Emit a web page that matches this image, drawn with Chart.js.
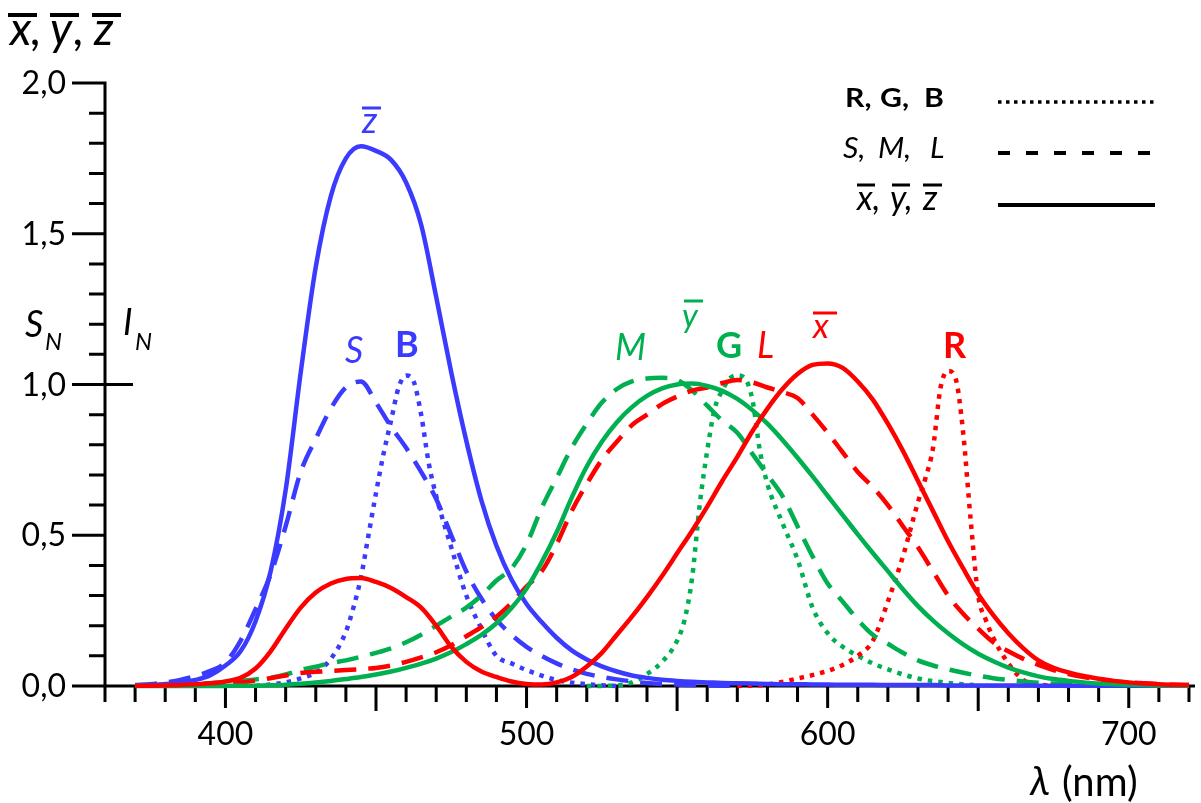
<!DOCTYPE html>
<html>
<head>
<meta charset="utf-8">
<script src="https://cdn.jsdelivr.net/npm/chart.js@4.4.1/dist/chart.umd.min.js"></script>
<style>
  html, body { margin: 0; padding: 0; background: #fff; }
  canvas { display: block; }
</style>
</head>
<body>
<canvas id="chart" width="1201" height="803"></canvas>
<script>
// colour matching functions, 5 nm grid
const lambdaCie = [370, 375, 380, 385, 390, 395, 400, 405, 410, 415, 420, 425, 430, 435, 440, 445, 450, 455, 460, 465,
  470, 475, 480, 485, 490, 495, 500, 505, 510, 515, 520, 525, 530, 535, 540, 545, 550, 555, 560, 565,
  570, 575, 580, 585, 590, 595, 600, 605, 610, 615, 620, 625, 630, 635, 640, 645, 650, 655, 660, 665,
  670, 675, 680, 685, 690, 695, 700, 705, 710, 715, 720];
const xBar = [0.0005, 0.001, 0.002, 0.003, 0.006, 0.009, 0.015, 0.027, 0.058, 0.115, 0.19, 0.26, 0.31, 0.34, 0.355, 0.358, 0.345, 0.325, 0.295, 0.26,
  0.2, 0.13, 0.08, 0.048, 0.03, 0.015, 0.007, 0.005, 0.012, 0.03, 0.065, 0.11, 0.17, 0.23, 0.295, 0.365, 0.44, 0.515, 0.595, 0.68,
  0.76, 0.845, 0.92, 0.985, 1.035, 1.065, 1.07, 1.055, 1.01, 0.95, 0.87, 0.78, 0.68, 0.58, 0.48, 0.39, 0.305, 0.235, 0.175, 0.125,
  0.085, 0.06, 0.045, 0.033, 0.024, 0.017, 0.012, 0.008, 0.006, 0.004, 0.003];
const yBar = [0, 0, 0, 0.0001, 0.0001, 0.0002, 0.0004, 0.0006, 0.0012, 0.0022, 0.004, 0.0073, 0.0116, 0.0168, 0.023, 0.0298, 0.038, 0.048, 0.06, 0.0739,
  0.091, 0.1126, 0.139, 0.1693, 0.208, 0.2586, 0.323, 0.41, 0.51, 0.625, 0.728, 0.81, 0.875, 0.925, 0.962, 0.987, 1.0, 1.003, 0.995, 0.979,
  0.952, 0.915, 0.87, 0.816, 0.757, 0.695, 0.631, 0.567, 0.503, 0.441, 0.381, 0.321, 0.265, 0.217, 0.175, 0.138, 0.107, 0.082, 0.061, 0.045,
  0.032, 0.023, 0.017, 0.012, 0.008, 0.006, 0.004, 0.003, 0.002, 0.0015, 0.001];
const zBar = [0.001, 0.003, 0.0065, 0.0106, 0.02, 0.036, 0.068, 0.115, 0.215, 0.38, 0.65, 1.04, 1.39, 1.625, 1.75, 1.79, 1.775, 1.745, 1.67, 1.53,
  1.29, 1.04, 0.813, 0.616, 0.465, 0.353, 0.272, 0.212, 0.16, 0.118, 0.088, 0.065, 0.048, 0.035, 0.027, 0.021, 0.017, 0.014, 0.012, 0.01,
  0.009, 0.008, 0.007, 0.006, 0.006, 0.005, 0.005, 0.004, 0.004, 0.004, 0.003, 0.003, 0.003, 0.003, 0.002, 0.002, 0.002, 0.002, 0.002, 0.002,
  0.001, 0.001, 0.001, 0.001, 0.001, 0.001, 0.001, 0.001, 0.001, 0.001, 0.001];

// cone sensitivities S, M, L (normalised)
const lambdaS = [370, 375, 380, 385, 390, 395, 400, 405, 410, 415, 420, 425, 430, 435, 440, 445, 450, 455, 460, 465,
  470, 475, 480, 485, 490, 495, 500, 505, 510, 515, 520, 525, 530, 535, 540, 545, 550, 555, 560, 565, 570];
const sCone = [0.003, 0.006, 0.012, 0.02, 0.033, 0.05, 0.078, 0.15, 0.255, 0.37, 0.53, 0.71, 0.82, 0.92, 0.99, 1.01, 0.94, 0.86, 0.79, 0.71,
  0.62, 0.5, 0.38, 0.29, 0.22, 0.17, 0.13, 0.1, 0.075, 0.055, 0.04, 0.03, 0.022, 0.015, 0.01, 0.007, 0.005, 0.003, 0.002, 0.001, 0];
const lambdaM = [370, 375, 380, 385, 390, 395, 400, 405, 410, 415, 420, 425, 430, 435, 440, 445, 450, 455, 460, 465,
  470, 475, 480, 485, 490, 495, 500, 505, 510, 515, 520, 525, 530, 535, 540, 545, 550, 555, 560, 565,
  570, 575, 580, 585, 590, 595, 600, 605, 610, 615, 620, 625, 630, 635, 640, 645, 650, 655, 660, 665,
  670, 675, 680, 685, 690, 695, 700];
const mCone = [0.001, 0.002, 0.003, 0.004, 0.006, 0.009, 0.013, 0.017, 0.022, 0.027, 0.038, 0.053, 0.064, 0.076, 0.085, 0.097, 0.11, 0.125, 0.145, 0.17,
  0.2, 0.23, 0.26, 0.3, 0.35, 0.39, 0.47, 0.59, 0.69, 0.79, 0.87, 0.94, 0.985, 1.01, 1.02, 1.022, 1.015, 0.98, 0.93, 0.88,
  0.84, 0.77, 0.7, 0.63, 0.53, 0.43, 0.34, 0.28, 0.22, 0.17, 0.14, 0.11, 0.085, 0.068, 0.055, 0.044, 0.034, 0.026, 0.02, 0.015,
  0.011, 0.008, 0.006, 0.004, 0.003, 0.002, 0.001];
const lambdaL = [380, 385, 390, 395, 400, 405, 410, 415, 420, 425, 430, 435, 440, 445, 450, 455, 460, 465,
  470, 475, 480, 485, 490, 495, 500, 505, 510, 515, 520, 525, 530, 535, 540, 545, 550, 555, 560, 565,
  570, 575, 580, 585, 590, 595, 600, 605, 610, 615, 620, 625, 630, 635, 640, 645, 650, 655, 660, 665,
  670, 675, 680, 685, 690, 695, 700, 705, 710, 715, 720];
const lCone = [0.002, 0.003, 0.004, 0.006, 0.008, 0.012, 0.018, 0.026, 0.035, 0.043, 0.047, 0.05, 0.053, 0.056, 0.06, 0.068, 0.08, 0.095,
  0.112, 0.135, 0.165, 0.195, 0.23, 0.275, 0.33, 0.38, 0.47, 0.58, 0.67, 0.75, 0.81, 0.865, 0.9, 0.935, 0.96, 0.98, 0.99, 1.005,
  1.015, 1.007, 0.99, 0.975, 0.955, 0.9, 0.84, 0.775, 0.71, 0.66, 0.6, 0.53, 0.46, 0.38, 0.3, 0.24, 0.19, 0.145, 0.115, 0.09,
  0.07, 0.053, 0.04, 0.03, 0.022, 0.016, 0.012, 0.009, 0.006, 0.004, 0.003];

// primaries R, G, B (normalised intensity)
const lambdaB = [410, 415, 420, 425, 430, 435, 440, 442.5, 445, 447.5, 450, 452.5, 455, 457.5, 460, 462.5, 465, 467.5, 470, 475, 480, 485, 490, 495, 500, 510, 520, 530];
const bPrim = [0, 0.005, 0.012, 0.025, 0.045, 0.09, 0.18, 0.26, 0.36, 0.5, 0.64, 0.77, 0.88, 0.99, 1.03, 1.01, 0.9, 0.74, 0.63, 0.46, 0.3, 0.19, 0.1, 0.075, 0.053, 0.02, 0.006, 0];
const lambdaG = [520, 530, 535, 540, 545, 550, 552.5, 555, 557.5, 560, 562.5, 565, 567.5, 570, 572.5, 575, 577.5, 580, 585, 590, 595, 600, 605, 610, 615, 620, 630, 640, 650];
const gPrim = [0, 0.002, 0.012, 0.04, 0.08, 0.15, 0.22, 0.36, 0.6, 0.78, 0.92, 0.98, 1.02, 1.03, 1.02, 0.95, 0.78, 0.67, 0.54, 0.42, 0.26, 0.175, 0.13, 0.1, 0.075, 0.055, 0.025, 0.01, 0.002];
const lambdaR = [570, 580, 590, 600, 605, 610, 615, 620, 625, 630, 632.5, 635, 637.5, 640, 642.5, 645, 647.5, 650, 652.5, 655, 660, 665, 670, 680];
const rPrim = [0, 0.005, 0.025, 0.05, 0.07, 0.1, 0.15, 0.28, 0.43, 0.61, 0.69, 0.79, 0.99, 1.045, 1.02, 0.84, 0.55, 0.3, 0.22, 0.16, 0.075, 0.02, 0.005, 0];

// axis ticks
const xTickLabels = ['400', '500', '600', '700'];
const xTickValues = [400, 500, 600, 700];
const yTickLabels = ['0,0', '0,5', '1,0', '1,5', '2,0'];
const yTickValues = [0, 0.5, 1.0, 1.5, 2.0];

const BLUE = '#3b3bff', RED = '#ff0000', GREEN = '#00b050';
const DASH = [22, 12], DOT = [4.5, 6];
const FONT = 'Lato, "DejaVu Sans", sans-serif';

function pts(lams, vals) {
  return lams.map((x, i) => ({ x: x, y: vals[i] }));
}

function curve(label, lams, vals, color, dash) {
  return {
    label: label,
    data: pts(lams, vals),
    showLine: true,
    borderColor: color,
    borderWidth: 4.5,
    borderDash: dash,
    borderCapStyle: 'butt',
    pointRadius: 0,
    cubicInterpolationMode: 'monotone',
    clip: false
  };
}

function txt(ctx, s, x, y, o) {
  ctx.save();
  ctx.font = (o.italic ? 'italic ' : '') + (o.bold ? 'bold ' : '') + o.size + 'px ' + FONT;
  ctx.fillStyle = o.color || '#000';
  ctx.textAlign = o.align || 'left';
  ctx.textBaseline = 'alphabetic';
  ctx.translate(x, y);
  ctx.scale(o.sx || 1, 1);
  ctx.fillText(s, 0, 0);
  const w = ctx.measureText(s).width * (o.sx || 1);
  ctx.restore();
  return w;
}

function bar(ctx, x1, x2, y, color, w) {
  ctx.save();
  ctx.strokeStyle = color;
  ctx.lineWidth = w || 3;
  ctx.beginPath();
  ctx.moveTo(x1, y);
  ctx.lineTo(x2, y);
  ctx.stroke();
  ctx.restore();
}

const axesPlugin = {
  id: 'axes',
  beforeDatasetsDraw(chart) {
    const ctx = chart.ctx, xs = chart.scales.x, ys = chart.scales.y;
    const x0 = xs.getPixelForValue(360), y0 = ys.getPixelForValue(0);
    ctx.save();
    ctx.strokeStyle = '#000';
    ctx.lineWidth = 3;
    ctx.lineCap = 'butt';
    ctx.beginPath();
    ctx.moveTo(x0, ys.getPixelForValue(2) - 1.5);
    ctx.lineTo(x0, y0);
    ctx.moveTo(x0 - 33, y0);
    ctx.lineTo(xs.getPixelForValue(722), y0);
    // y ticks
    for (let i = 0; i <= 20; i++) {
      const py = ys.getPixelForValue(i / 10);
      const len = i % 5 === 0 ? 33 : 16;
      ctx.moveTo(x0 - len, py);
      ctx.lineTo(x0, py);
    }
    const p1 = ys.getPixelForValue(1);
    ctx.moveTo(x0, p1);
    ctx.lineTo(x0 + 28, p1);
    // x ticks
    for (let nm = 360; nm <= 720; nm += 10) {
      const px = xs.getPixelForValue(nm);
      const len = nm % 100 === 0 ? 22 : (nm % 50 === 0 ? 25 : 16);
      ctx.moveTo(px, y0);
      ctx.lineTo(px, y0 + len);
    }
    ctx.stroke();
    ctx.restore();
  },
  afterDatasetsDraw(chart) {
    const ctx = chart.ctx, xs = chart.scales.x, ys = chart.scales.y;
    // tick labels
    xTickValues.forEach((v, i) => txt(ctx, xTickLabels[i], xs.getPixelForValue(v), 745, { size: 32, align: 'center' }));
    yTickValues.forEach((v, i) => txt(ctx, yTickLabels[i], 66, ys.getPixelForValue(v) + 11, { size: 32, align: 'right' }));

    // axis titles
    const t = { size: 46, italic: true };
    let w = txt(ctx, 'x', 10, 45, t); bar(ctx, 8, 37, 15, '#000', 4);
    txt(ctx, ',', 10 + w, 45, t);
    txt(ctx, 'y', 50, 45, t); bar(ctx, 50, 79, 15, '#000', 4);
    txt(ctx, ',', 74, 45, t);
    txt(ctx, 'z', 94, 45, t); bar(ctx, 92, 121, 15, '#000', 4);
    txt(ctx, 'S', 25, 337, { size: 36, italic: true });
    txt(ctx, 'N', 45, 350, { size: 24, italic: true });
    txt(ctx, 'I', 123, 335, { size: 36, italic: true });
    txt(ctx, 'N', 135, 350, { size: 24, italic: true });
    txt(ctx, 'λ', 1030, 795, { size: 40, italic: true });
    txt(ctx, '(nm)', 1062, 796, { size: 40 });

    // curve labels
    txt(ctx, 'z', 362, 133, { size: 36, italic: true, color: BLUE }); bar(ctx, 362, 381, 108, BLUE);
    txt(ctx, 'S', 345, 363, { size: 36, italic: true, color: BLUE });
    txt(ctx, 'B', 395, 357, { size: 36, bold: true, color: BLUE });
    txt(ctx, 'M', 615, 360, { size: 36, italic: true, color: GREEN });
    txt(ctx, 'y', 682, 327, { size: 33, italic: true, color: GREEN }); bar(ctx, 684, 703, 301, GREEN);
    txt(ctx, 'G', 716, 358, { size: 36, bold: true, color: GREEN });
    txt(ctx, 'L', 757, 358, { size: 36, italic: true, color: RED });
    txt(ctx, 'x', 813, 338, { size: 34, italic: true, color: RED }); bar(ctx, 813, 837, 313, RED);
    txt(ctx, 'R', 943, 358, { size: 36, bold: true, color: RED });

    // legend
    const l1 = { size: 27, bold: true, sx: 1.12 };
    txt(ctx, 'R,', 845, 107, l1); txt(ctx, 'G,', 880, 107, l1); txt(ctx, 'B', 924, 107, l1);
    const l2 = { size: 29, italic: true, sx: 1.05 };
    txt(ctx, 'S,', 843, 158, l2); txt(ctx, 'M,', 878, 158, l2); txt(ctx, 'L', 930, 158, l2);
    const l3 = { size: 34, italic: true };
    txt(ctx, 'x,', 857, 210, l3); bar(ctx, 857, 875, 185, '#000');
    txt(ctx, 'y,', 890, 210, l3); bar(ctx, 892, 910, 185, '#000');
    txt(ctx, 'z', 923, 210, l3); bar(ctx, 923, 942, 185, '#000');

    ctx.save();
    ctx.strokeStyle = '#000';
    ctx.lineCap = 'butt';
    ctx.lineWidth = 3.5;
    ctx.setLineDash([3.5, 4.5]);
    ctx.beginPath(); ctx.moveTo(998, 102); ctx.lineTo(1155, 102); ctx.stroke();
    ctx.setLineDash([12, 16]);
    ctx.lineWidth = 4;
    ctx.beginPath(); ctx.moveTo(998, 153); ctx.lineTo(1155, 153); ctx.stroke();
    ctx.setLineDash([]);
    ctx.beginPath(); ctx.moveTo(998, 205); ctx.lineTo(1155, 205); ctx.stroke();
    ctx.restore();
  }
};

const config = {
  type: 'scatter',
  data: {
    datasets: [
      curve('x̄', lambdaCie, xBar, RED, []),
      curve('ȳ', lambdaCie, yBar, GREEN, []),
      curve('z̄', lambdaCie, zBar, BLUE, []),
      curve('L', lambdaL, lCone, RED, DASH),
      curve('M', lambdaM, mCone, GREEN, DASH),
      curve('S', lambdaS, sCone, BLUE, DASH),
      curve('R', lambdaR, rPrim, RED, DOT),
      curve('G', lambdaG, gPrim, GREEN, DOT),
      curve('B', lambdaB, bPrim, BLUE, DOT)
    ]
  },
  options: {
    responsive: false,
    animation: false,
    layout: { padding: { left: 105, right: 6, top: 83, bottom: 117 } },
    scales: {
      x: { type: 'linear', min: 360, max: 722, display: false },
      y: { type: 'linear', min: 0, max: 2, display: false }
    },
    plugins: { legend: { display: false }, tooltip: { enabled: false } }
  },
  plugins: [axesPlugin]
};

window.onload = function() {
  const ctx = document.getElementById('chart').getContext('2d');
  window.myChart = new Chart(ctx, config);
};
</script>
</body>
</html>
